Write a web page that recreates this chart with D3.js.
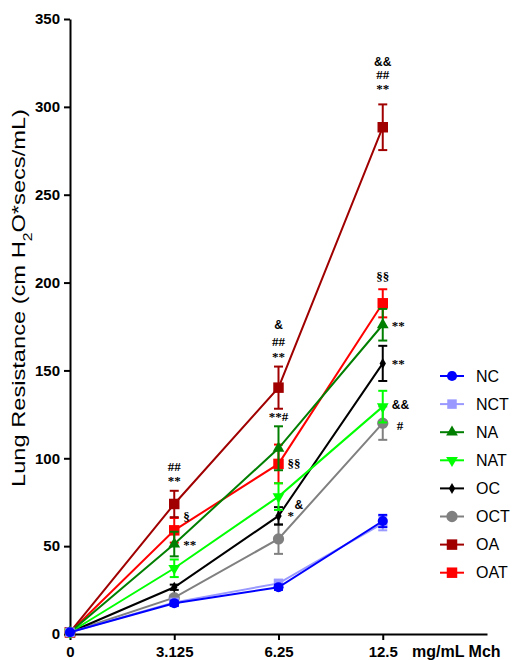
<!DOCTYPE html>
<html><head><meta charset="utf-8">
<script src="https://cdn.jsdelivr.net/npm/d3@7"></script>
<style>body{margin:0;background:#fff}svg{display:block}</style>
</head><body>
<svg id="c" width="512" height="660"></svg>
<script>
const doses = ["0", "3.125", "6.25", "12.5"];
const yTicks = [0, 50, 100, 150, 200, 250, 300, 350];
const groups = ["NC", "NCT", "NA", "NAT", "OC", "OCT", "OA", "OAT"];
const NC  = [1, 17.5, 26.6, 64.3];   const NC_err  = [0.5, 1.5, 1.5, 3.5];
const NCT = [1, 18.0, 28.8, 63.0];   const NCT_err = [0.5, 1.5, 2.0, 4.0];
const NA  = [1, 51.2, 105.7, 176.0]; const NA_err  = [0.5, 7.0, 12.5, 9.0];
const NAT = [1, 37.4, 78.2, 129.4];  const NAT_err = [0.5, 5.0, 7.6, 9.0];
const OC  = [1, 26.6, 67.2, 154.0];  const OC_err  = [0.5, 1.5, 5.0, 10.0];
const OCT = [1, 20.7, 54.1, 120.0];  const OCT_err = [0.5, 1.5, 8.5, 9.5];
const OA  = [1, 74.0, 140.2, 288.4]; const OA_err  = [0.5, 7.5, 12.0, 13.0];
const OAT = [1, 59.0, 96.8, 188.2];  const OAT_err = [0.5, 7.0, 11.0, 8.0];
// significance marks: [text, dose index, value anchor, align]
const marks = [
  ["##", 1, 95.6, "c"], ["**", 1, 87.1, "c"], ["§", 1, 66.6, "r"], ["**", 1, 50.7, "r"],
  ["&", 2, 175.9, "c"], ["##", 2, 166.2, "c"], ["**", 2, 158.2, "c"], ["**#", 2, 123.5, "c"],
  ["§§", 2, 96.8, "r"], ["&", 2, 73.4, "r2"], ["*", 2, 67.7, "r"],
  ["&&", 3, 325.6, "c"], ["##", 3, 318.2, "c"], ["**", 3, 310.2, "c"], ["§§", 3, 203.2, "c"],
  ["**", 3, 175.3, "r"], ["**", 3, 154.2, "r"], ["&&", 3, 130.3, "r"], ["#", 3, 118.9, "r3"]
];

const values = {NC, NCT, NA, NAT, OC, OCT, OA, OAT};
const errors = {NC: NC_err, NCT: NCT_err, NA: NA_err, NAT: NAT_err, OC: OC_err, OCT: OCT_err, OA: OA_err, OAT: OAT_err};
const colors = {NC: "#0000FF", NCT: "#9999FF", NA: "#007F00", NAT: "#00FF00", OC: "#000000", OCT: "#808080", OA: "#A00000", OAT: "#FF0000"};
const shapes = {
  NC: [d3.symbolCircle, 80, 0], NCT: [d3.symbolSquare, 90, 0], NA: [d3.symbolTriangle, 60, 0],
  NAT: [d3.symbolTriangle, 60, 180], OC: [d3.symbolDiamond, 35, 0], OCT: [d3.symbolCircle, 100, 0],
  OA: [d3.symbolSquare, 110, 0], OAT: [d3.symbolSquare, 110, 0]
};

const svg = d3.select("#c");
const x = d3.scaleLinear().domain([0, 4]).range([70, 487]);
const y = d3.scaleLinear().domain([0, 350]).range([634, 19]);

// axes
const gx = svg.append("g").attr("transform", `translate(0,${y(0)})`)
  .call(d3.axisBottom(x).tickValues([0, 1, 2, 3]).tickFormat(i => doses[i]).tickSize(6).tickSizeOuter(0));
const gy = svg.append("g").attr("transform", `translate(${x(0)},0)`)
  .call(d3.axisLeft(y).tickValues(yTicks).tickSize(6).tickSizeOuter(0));
[gx, gy].forEach(g => {
  g.select(".domain").attr("stroke", "#000").attr("stroke-width", 2);
  g.selectAll(".tick line").attr("stroke", "#000").attr("stroke-width", 2);
  g.selectAll(".tick text").attr("fill", "#000").attr("font-family", "Liberation Sans, Arial, sans-serif")
    .attr("font-weight", "bold").attr("font-size", 15);
});
gx.selectAll(".tick text").attr("dy", "0.95em");
gy.selectAll(".tick text").attr("dx", "-1px");

svg.append("text").attr("x", 412).attr("y", 657).attr("font-family", "Liberation Sans, Arial, sans-serif")
  .attr("font-weight", "bold").attr("font-size", 16).text("mg/mL Mch");

const yl = svg.append("text").attr("transform", "translate(25,487) rotate(-90)")
  .attr("font-family", "Liberation Sans, Arial, sans-serif").attr("font-size", 18)
  .attr("textLength", 378).attr("lengthAdjust", "spacingAndGlyphs");
yl.append("tspan").text("Lung Resistance (cm H");
yl.append("tspan").attr("baseline-shift", "sub").attr("font-size", 12).text("2");
yl.append("tspan").text("O*secs/mL)");

const line = d3.line().x((d, i) => x(i)).y(d => y(d));
const drawOrder = groups.slice().reverse();

drawOrder.forEach(gname => {
  const g = svg.append("g");
  const col = colors[gname];
  const vals = values[gname], errs = errors[gname];
  g.append("path").datum(vals).attr("d", line).attr("fill", "none").attr("stroke", col).attr("stroke-width", 2);
  vals.forEach((v, i) => {
    const e = errs[i];
    if (e > 1) {
      g.append("line").attr("x1", x(i)).attr("x2", x(i)).attr("y1", y(v - e)).attr("y2", y(v + e)).attr("stroke", col).attr("stroke-width", 2);
      [v - e, v + e].forEach(c => g.append("line").attr("x1", x(i) - 4.5).attr("x2", x(i) + 4.5).attr("y1", y(c)).attr("y2", y(c)).attr("stroke", col).attr("stroke-width", 2));
    }
  });
  const [t, s, r] = shapes[gname];
  g.selectAll("path.m").data(vals).enter().append("path").attr("class", "m")
    .attr("d", d3.symbol().type(t).size(s))
    .attr("transform", (d, i) => `translate(${x(i)},${y(d)}) rotate(${r})`)
    .attr("fill", col);
});

// significance marks
marks.forEach(([txt, i, v, al]) => {
  const off = al === "c" ? 0 : al === "r2" ? 16 : al === "r3" ? 14 : 9;
  svg.append("text").attr("x", x(i) + off).attr("y", y(v))
    .attr("text-anchor", al === "c" ? "middle" : "start").attr("dominant-baseline", "central")
    .attr("font-family", txt.includes("&") ? "Liberation Sans, Arial, sans-serif" : "Liberation Serif, Times New Roman, serif")
    .attr("font-weight", "bold").attr("font-size", txt.includes("&") ? 12 : 13).attr("fill", "#000").text(txt);
});

// legend
const lg = svg.append("g");
groups.forEach((gname, k) => {
  const ly = 376 + k * 28.1;
  const col = colors[gname];
  lg.append("line").attr("x1", 440).attr("x2", 464).attr("y1", ly).attr("y2", ly).attr("stroke", col).attr("stroke-width", 2);
  const [t, s, r] = shapes[gname];
  lg.append("path").attr("d", d3.symbol().type(t).size(s)).attr("transform", `translate(452,${ly}) rotate(${r})`).attr("fill", col);
  lg.append("text").attr("x", 476).attr("y", ly).attr("dominant-baseline", "central")
    .attr("font-family", "Liberation Sans, Arial, sans-serif").attr("font-size", 16).attr("fill", "#000").text(gname);
});
</script>
</body></html>
